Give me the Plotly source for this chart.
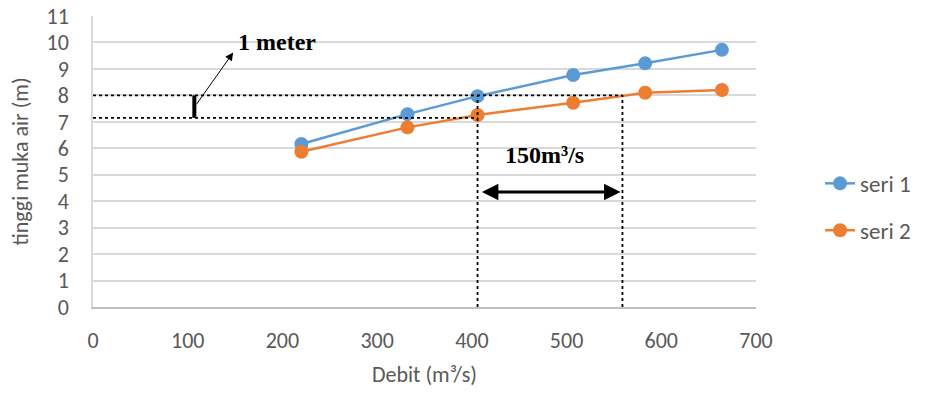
import plotly.graph_objects as go

debit = [220, 332, 406, 507, 583, 664]
seri1 = [6.16, 7.29, 7.97, 8.77, 9.21, 9.72]
seri2 = [5.87, 6.79, 7.26, 7.72, 8.10, 8.20]
series_names = ["seri 1", "seri 2"]
colors = ["#5b9bd5", "#ed7d31"]

# annotation reference values (data units)
level_hi = 8.0
level_lo = 7.15
q_lo = 406
q_hi = 559
arrow_level = 4.35
meter_x = 107

x_ticks = list(range(0, 701, 100))
y_ticks = list(range(0, 12))

fig = go.Figure()
for name, ys, c in zip(series_names, [seri1, seri2], colors):
    fig.add_trace(go.Scatter(x=debit, y=ys, mode="lines+markers", name=name,
                             legendgroup=name,
                             line=dict(color=c, width=2.5),
                             marker=dict(color=c, size=14)))

dot = dict(color="black", width=1.8, dash="dot")
fig.add_shape(type="line", x0=0, x1=q_hi, y0=level_hi, y1=level_hi, line=dot)
fig.add_shape(type="line", x0=0, x1=q_lo, y0=level_lo, y1=level_lo, line=dot)
fig.add_shape(type="line", x0=q_lo, x1=q_lo, y0=0, y1=level_hi, line=dot)
fig.add_shape(type="line", x0=q_hi, x1=q_hi, y0=0, y1=level_hi, line=dot)
# thick bar "1 meter"
fig.add_shape(type="line", x0=meter_x, x1=meter_x, y0=level_lo, y1=level_hi,
              line=dict(color="black", width=4))

serif = "Liberation Serif, Times New Roman, serif"
# arrow to "1 meter"
fig.add_annotation(x=148, y=9.62, ax=meter_x + 1, ay=7.6, axref="x", ayref="y",
                   xref="x", yref="y", showarrow=True, arrowhead=2, arrowsize=1.6,
                   arrowwidth=1, arrowcolor="black", text="")
fig.add_annotation(x=151, y=10.02, xref="x", yref="y", text="<b>1 meter</b>",
                   showarrow=False, xanchor="left",
                   font=dict(family=serif, size=24, color="black"))
# double arrow
fig.add_annotation(x=q_hi - 2, y=arrow_level, ax=q_lo + 3, ay=arrow_level,
                   axref="x", ayref="y", xref="x", yref="y", showarrow=True,
                   arrowhead=2, arrowside="end+start", arrowsize=1.1, arrowwidth=3,
                   arrowcolor="black", text="")
fig.add_annotation(x=477, y=5.75, xref="x", yref="y",
                   text="<b>150m³/s</b>", showarrow=False,
                   font=dict(family=serif, size=24, color="black"))

sans = "Carlito, Calibri, Liberation Sans Narrow, Liberation Sans, sans-serif"
tickfont = dict(family=sans, size=22, color="#595959")
fig.update_layout(
    width=927, height=394,
    margin=dict(l=93, r=170, t=16, b=87),
    paper_bgcolor="white", plot_bgcolor="white",
    font=tickfont,
    legend=dict(x=1.095, y=0.344, yanchor="middle", xanchor="left",
                font=dict(family=sans, size=23, color="#595959"), tracegroupgap=14),
    showlegend=True,
)
fig.update_xaxes(range=[0, 700], tickvals=x_ticks, showgrid=False, zeroline=False,
                 showline=True, linecolor="#bfbfbf", linewidth=1.5,
                 ticks="outside", ticklen=13, tickcolor="white", tickfont=tickfont,
                 automargin=False,
                 title=dict(text="Debit (m³/s)", font=tickfont, standoff=13))
fig.update_yaxes(range=[0, 11], tickvals=y_ticks, showgrid=True, gridcolor="#d9d9d9",
                 gridwidth=1.5, zeroline=False, showline=True, linecolor="#d9d9d9",
                 linewidth=1.5, tickfont=tickfont, ticks="outside", ticklen=18,
                 tickcolor="white", automargin=False,
                 title=dict(text="tinggi muka air (m)", font=tickfont, standoff=12))

fig.write_html("out.html")
